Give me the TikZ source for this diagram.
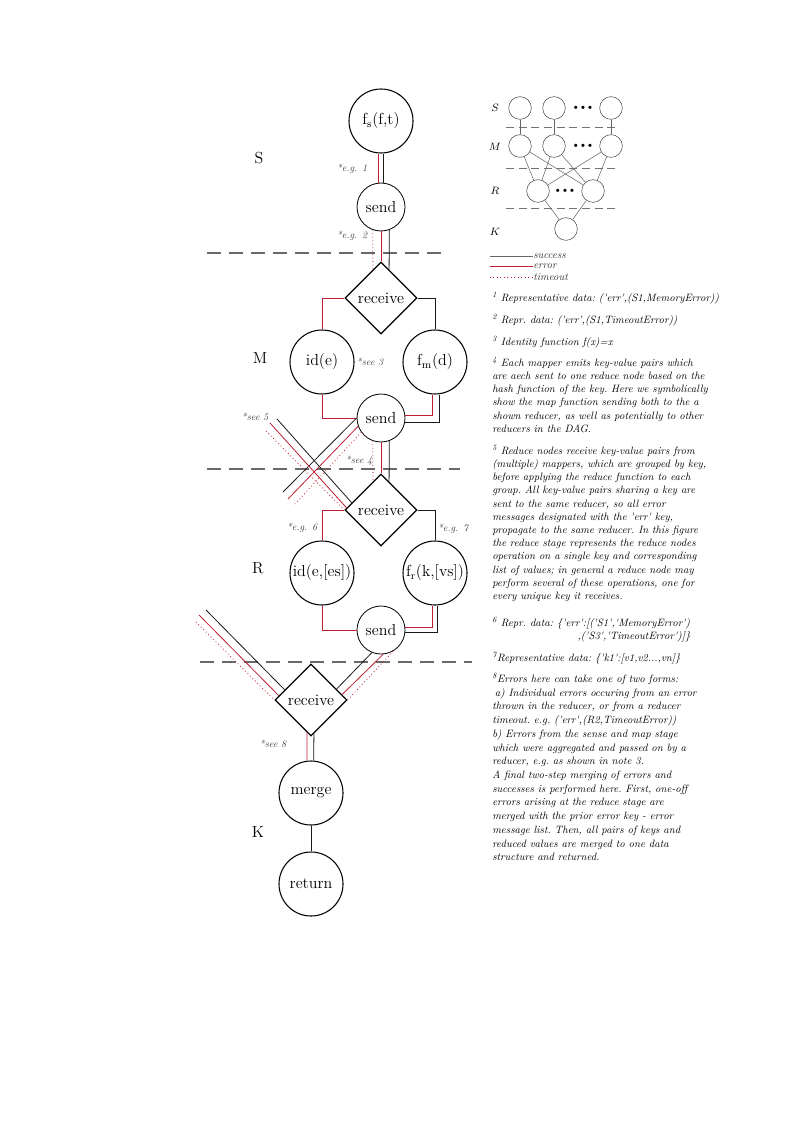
\documentclass[tikz,border=0pt]{standalone}
\usepackage{fontspec}
\usetikzlibrary{shapes.geometric,calc}
\newfontface\notefont{lmroman10-italic.otf}
\definecolor{errred}{RGB}{190,30,50}
\definecolor{stagegray}{RGB}{105,105,105}
\tikzset{task/.style={circle,draw,line width=0.8pt,minimum size=48pt,inner sep=0pt,font=\fontsize{12}{14}\selectfont}}
\tikzset{sender/.style={circle,draw,line width=0.6pt,minimum size=36pt,inner sep=0pt,font=\fontsize{12}{14}\selectfont}}
\tikzset{receiver/.style={diamond,draw,line width=1pt,minimum width=54pt,minimum height=54pt,inner sep=0pt,font=\fontsize{12}{14}\selectfont}}
\tikzset{success edge/.style={solid,draw=black!90,line width=0.6pt}}
\tikzset{error edge/.style={solid,draw=errred,line width=0.6pt}}
\tikzset{timeout edge/.style={dotted,draw=errred,line width=0.6pt}}
\tikzset{stage line/.style={draw=stagegray,line width=1.5pt,dash pattern=on 10.5pt off 6pt}}
\tikzset{stage name/.style={font=\fontsize{12}{14}\selectfont}}
\tikzset{ref label/.style={font=\notefont\fontsize{7.5}{8}\selectfont,text=black!75,inner sep=0pt}}
\tikzset{legend label/.style={anchor=west,font=\notefont\fontsize{8}{9}\selectfont,text=black!80,inner sep=0pt}}
\tikzset{mini/.style={circle,draw=black!70,line width=0.4pt,minimum size=17pt,inner sep=0pt}}
\tikzset{mini edge/.style={draw=black!60,line width=0.4pt}}
\tikzset{mini stage/.style={draw=black!55,line width=0.6pt,dash pattern=on 6pt off 3.5pt}}
\tikzset{note/.style={anchor=north west,align=left,inner sep=0pt,font=\notefont\fontsize{8}{9.9}\selectfont\frenchspacing}}
\begin{document}
\begin{tikzpicture}[x=0.75pt,y=-0.75pt]
\useasboundingbox (0,0) rectangle (794,1123);

% stage separators
\draw[stage line] (207,253) -- (447,253);
\draw[stage line] (207,469) -- (460,469);
\draw[stage line] (200,662) -- (472,662);

\node[stage name] (nameS) at (259,158) {S};
\node[stage name] (nameM) at (260,358) {M};
\node[stage name] (nameR) at (258,568) {R};
\node[stage name] (nameK) at (258,832) {K};

% nodes of the pipeline
\node[task] (fs) at (381,121) {f\textsubscript{s}(f,t)};
\node[sender] (sendS) at (381,207) {send};
\node[receiver] (recvM) at (381,298) {receive};
\node[task] (idM) at (322,362) {id(e)};
\node[task] (fm) at (435,362) {f\textsubscript{m}(d)};
\node[sender] (sendM) at (381,418) {send};
\node[receiver] (recvR) at (381,510) {receive};
\node[task] (idR) at (322,573) {id(e,[es])};
\node[task] (fr) at (435,573) {f\textsubscript{r}(k,[vs])};
\node[sender] (sendR) at (381,630) {send};
\node[receiver] (recvK) at (311,700) {receive};
\node[task] (merge) at (311,793) {merge};
\node[task] (return) at (311,884) {return};

% S stage
\draw[error edge] ([xshift=-2pt]fs.south) -- ([xshift=-2pt]sendS.north);
\draw[success edge] ([xshift=2pt]fs.south) -- ([xshift=2pt]sendS.north);
\draw[timeout edge] (sendS.250) -- ($(recvM.north)!0.22!(recvM.west)$);
\draw[error edge] (sendS.south) -- (recvM.north);
\draw[success edge] (sendS.290) -- ($(recvM.north)!0.22!(recvM.east)$);

% M stage
\draw[error edge] (recvM.west) -| (idM.north);
\draw[success edge] (recvM.east) -| (fm.north);
\draw[error edge] (idM.south) |- (sendM.west);
\draw[error edge] ([xshift=-2pt]fm.south) |- ([yshift=2pt]sendM.east);
\draw[success edge] ([xshift=3pt]fm.south) |- ([yshift=-3pt]sendM.east);
\draw[timeout edge] (sendM.250) -- ($(recvR.north)!0.22!(recvR.west)$);
\draw[error edge] (sendM.south) -- (recvR.north);
\draw[success edge] (sendM.290) -- ($(recvR.north)!0.22!(recvR.east)$);

% to and from the other reducers
\coordinate (outMok) at (283,492);
\coordinate (outMerr) at (288,499);
\coordinate (outMto) at (295,504);
\draw[success edge] (sendM.180) -- (outMok);
\draw[error edge] (sendM.200) -- (outMerr);
\draw[timeout edge] (sendM.216) -- (outMto);
\coordinate (inRok) at (277,419);
\coordinate (inRerr) at (270,423);
\coordinate (inRto) at (266,431);
\draw[success edge] (inRok) -- ($(recvR.west)!0.2!(recvR.north)$);
\draw[error edge] (inRerr) -- ($(recvR.west)!0.06!(recvR.north)$);
\draw[timeout edge] (inRto) -- (recvR.west);

% R stage
\draw[error edge] (recvR.west) -| (idR.north);
\draw[success edge] (recvR.east) -| (fr.north);
\draw[error edge] (idR.south) |- (sendR.west);
\draw[error edge] ([xshift=-2pt]fr.south) |- ([yshift=2pt]sendR.east);
\draw[success edge] ([xshift=2pt]fr.south) |- ([yshift=-2pt]sendR.east);
\draw[success edge] (sendR.248) -- ($(recvK.east)!0.3!(recvK.north)$);
\draw[error edge] (sendR.275) -- ($(recvK.east)!0.15!(recvK.north)$);
\draw[timeout edge] (sendR.300) -- (recvK.east);
\coordinate (inKok) at (206,610);
\coordinate (inKerr) at (199,615);
\coordinate (inKto) at (196,622);
\draw[success edge] (inKok) -- ($(recvK.west)!0.28!(recvK.north)$);
\draw[error edge] (inKerr) -- ($(recvK.west)!0.12!(recvK.north)$);
\draw[timeout edge] (inKto) -- (recvK.west);

% K stage
\draw[error edge] ($(recvK.south)!0.11!(recvK.west)$) -- ([xshift=-3pt]merge.north);
\draw[success edge] ($(recvK.south)!0.08!(recvK.east)$) -- ([xshift=2pt]merge.north);
\draw[success edge] (merge) -- (return);

% references to the notes
\node[ref label] (ref1) at (352,169) {*e.g. 1};
\node[ref label] (ref2) at (352,236) {*e.g. 2};
\node[ref label] (ref3) at (370,362) {*see 3};
\node[ref label] (ref4) at (359,461) {*see 4};
\node[ref label] (ref5) at (255,417) {*see 5};
\node[ref label] (ref6) at (302,528) {*e.g. 6};
\node[ref label] (ref7) at (453,529) {*e.g. 7};
\node[ref label] (ref8) at (273,744) {*see 8};

% small DAG
\node[mini] (s1) at (520,108) {};
\node[mini] (s2) at (554,108) {};
\node[mini] (s3) at (611,108) {};
\node[mini] (m1) at (520,146) {};
\node[mini] (m2) at (554,146) {};
\node[mini] (m3) at (611,146) {};
\node[mini] (r1) at (538,191) {};
\node[mini] (r2) at (593,191) {};
\node[mini] (k1) at (566,229) {};
\node (dotsS) at (583,108) {\fontsize{4}{4}\selectfont$\bullet\bullet\bullet$};
\node (dotsM) at (583,146) {\fontsize{4}{4}\selectfont$\bullet\bullet\bullet$};
\node (dotsR) at (565,191) {\fontsize{4}{4}\selectfont$\bullet\bullet\bullet$};
\draw[mini stage] (506,127) -- (620,127);
\draw[mini stage] (506,168) -- (620,168);
\draw[mini stage] (506,208) -- (620,208);
\draw[mini edge] (s1) -- (m1);
\draw[mini edge] (s2) -- (m2);
\draw[mini edge] (s3) -- (m3);
\draw[mini edge] (m1) -- (r1);
\draw[mini edge] (m1) -- (r2);
\draw[mini edge] (m2) -- (r1);
\draw[mini edge] (m2) -- (r2);
\draw[mini edge] (m3) -- (r1);
\draw[mini edge] (m3) -- (r2);
\draw[mini edge] (r1) -- (k1);
\draw[mini edge] (r2) -- (k1);
\node[font=\fontsize{8}{9}\selectfont] (miniS) at (495,108) {$S$};
\node[font=\fontsize{8}{9}\selectfont] (miniM) at (495,147) {$M$};
\node[font=\fontsize{8}{9}\selectfont] (miniR) at (495,191) {$R$};
\node[font=\fontsize{8}{9}\selectfont] (miniK) at (495,232) {$K$};

% legend
\node[legend label] (legok) at (533,256) {success};
\node[legend label] (legerr) at (533,266) {error};
\node[legend label] (legto) at (533,277) {timeout};
\coordinate (legokstart) at (490,256);
\coordinate (legerrstart) at (490,266);
\coordinate (legtostart) at (490,277);
\draw[success edge,draw=black!60] (legokstart) -- (legok.west);
\draw[error edge] (legerrstart) -- (legerr.west);
\draw[timeout edge] (legtostart) -- (legto.west);

% notes
\node[note] (note1) at (492,292) {\textsuperscript{1} Representative data: ('err',(S1,MemoryError))};
\node[note] (note2) at (492,314) {\textsuperscript{2} Repr. data: ('err',(S1,TimeoutError))};
\node[note] (note3) at (492,336) {\textsuperscript{3} Identity function f(x)=x};
\node[note] (note4) at (492,357) {\textsuperscript{4} Each mapper emits key-value pairs which\\
are aech sent to one reduce node based on the\\
hash function of the key. Here we symbolically\\
show the map function sending both to the a\\
shown reducer, as well as potentially to other\\
reducers in the DAG.};
\node[note] (note5) at (492,445) {\textsuperscript{5} Reduce nodes receive key-value pairs from\\
(multiple) mappers, which are grouped by key,\\
before applying the reduce function to each\\
group. All key-value pairs sharing a key are\\
sent to the same reducer, so all error\\
messages designated with the 'err' key,\\
propagate to the same reducer. In this figure\\
the reduce stage represents the reduce nodes\\
operation on a single key and corresponding\\
list of values; in general a reduce node may\\
perform several of these operations, one for\\
every unique key it receives.};
\node[note] (note6) at (492,617) {\textsuperscript{6} Repr. data: \{'err':[('S1','MemoryError')\\
\hspace*{64pt},('S3','TimeoutError')]\}};
\node[note] (note7) at (492,652) {\textsuperscript{7}Representative data: \{'k1':[v1,v2...,vn]\}};
\node[note,font=\notefont\fontsize{8}{10.3}\selectfont\frenchspacing] (note8) at (492,673) {\textsuperscript{8}Errors here can take one of two forms:\\
\hspace*{2pt}a) Individual errors occuring from an error\\
thrown in the reducer, or from a reducer\\
timeout. e.g. ('err',(R2,TimeoutError))\\
b) Errors from the sense and map stage\\
which were aggregated and passed on by a\\
reducer, e.g. as shown in note 3.\\
A final two-step merging of errors and\\
successes is performed here. First, one-off\\
errors arising at the reduce stage are\\
merged with the prior error key - error\\
message list. Then, all pairs of keys and\\
reduced values are merged to one data\\
structure and returned.};

\end{tikzpicture}
\end{document}
